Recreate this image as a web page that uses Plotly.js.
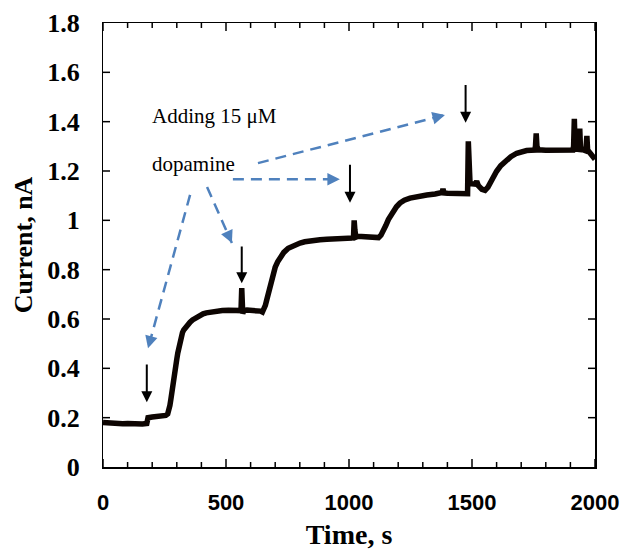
<!DOCTYPE html>
<html>
<head>
<meta charset="utf-8">
<script src="https://cdn.plot.ly/plotly-3.0.1.min.js"></script>
<style>html,body{margin:0;padding:0;background:#fff;}#chart{width:625px;height:550px;}</style>
</head>
<body>
<div id="chart"></div>
<script>
// Time (s) and current (nA)
const time = [
  0,20,40,60,80,100,120,140,160,178,
  183,200,220,240,255,263,268,272,276,279,
  283,286,290,293,297,300,304,307,310,313,
  318,323,328,333,343,354,364,374,384,394,
  407,420,440,462,485,510,535,557,561,564,
  566,568,572,585,600,620,640,648,655,660,
  665,672,678,685,692,700,710,720,735,753,
  775,801,820,840,860,882,910,940,970,1004,
  1014,1018,1021,1024,1028,1035,1050,1070,1090,1110,
  1120,1130,1140,1150,1160,1170,1180,1193,1207,1225,
  1248,1280,1316,1350,1375,1379,1382,1386,1400,1420,
  1440,1460,1478,1482,1485,1488,1492,1500,1512,1519,
  1526,1540,1553,1565,1580,1600,1617,1634,1658,1682,
  1700,1722,1740,1755,1758,1761,1764,1770,1800,1830,
  1860,1890,1910,1913,1916,1919,1925,1935,1938,1941,
  1950,1960,1964,1967,1970,1980,1990,2000
];
const current = [
  0.180,0.178,0.176,0.177,0.175,0.176,0.174,0.175,0.174,0.176,
  0.200,0.203,0.204,0.206,0.209,0.215,0.230,0.250,0.275,0.300,
  0.325,0.345,0.370,0.392,0.418,0.437,0.462,0.480,0.498,0.515,
  0.532,0.545,0.555,0.563,0.575,0.587,0.596,0.603,0.610,0.616,
  0.621,0.625,0.629,0.632,0.634,0.635,0.636,0.637,0.634,0.725,
  0.700,0.622,0.634,0.636,0.636,0.635,0.632,0.628,0.640,0.655,
  0.675,0.705,0.730,0.760,0.788,0.810,0.832,0.848,0.870,0.887,
  0.899,0.908,0.913,0.917,0.919,0.921,0.923,0.925,0.926,0.927,
  0.928,0.924,1.000,0.960,0.932,0.935,0.934,0.932,0.930,0.928,
  0.930,0.940,0.956,0.980,1.003,1.022,1.037,1.055,1.070,1.082,
  1.090,1.098,1.103,1.107,1.109,1.113,1.128,1.111,1.110,1.110,
  1.111,1.110,1.110,1.108,1.320,1.180,1.150,1.148,1.147,1.158,
  1.140,1.126,1.122,1.135,1.165,1.199,1.222,1.239,1.258,1.272,
  1.278,1.283,1.284,1.285,1.300,1.352,1.300,1.286,1.284,1.283,
  1.284,1.283,1.285,1.300,1.412,1.300,1.288,1.287,1.372,1.290,
  1.285,1.283,1.300,1.342,1.285,1.270,1.258,1.248
];

// Tick positions
const xMajorTicks = [0, 500, 1000, 1500, 2000];
const xMinorTicks = [100, 200, 300, 400, 600, 700, 800, 900, 1100, 1200, 1300, 1400, 1600, 1700, 1800, 1900];
const yTicks = [0.2, 0.4, 0.6, 0.8, 1.0, 1.2, 1.4, 1.6];

// Black "addition" arrows (time, top of shaft, tip)
const addTime = [178, 564, 1004, 1474];
const addTop  = [0.422, 0.900, 1.231, 1.555];
const addTip  = [0.263, 0.745, 1.071, 1.396];

// Blue dashed pointer arrows from the label
const ptrStartX = [354, 423, 528, 630];
const ptrStartY = [1.103, 1.135, 1.167, 1.232];
const ptrTipX   = [183, 524, 963, 1390];
const ptrTipY   = [0.481, 0.908, 1.167, 1.427];

// Label lines
const labelLines = ['Adding 15 μM', 'dopamine'];
const labelX = [193, 193];
const labelY = [1.425, 1.229];

const M = {l: 103, r: 30, t: 23, b: 83};
const W = 625 - M.l - M.r, H = 550 - M.t - M.b;
const XR = [0, 2000], YR = [0, 1.8];
const BLUE = '#4f81bd';
const CLEAR = 'rgba(0,0,0,0)';

const carrier = (xa, ya) => ({
  x: [XR[0]], y: [YR[0]], xaxis: xa, yaxis: ya, type: 'scatter', mode: 'markers',
  marker: {size: 0, opacity: 0}, hoverinfo: 'skip', showlegend: false
});

const traces = [{
  x: time, y: current, type: 'scatter', mode: 'lines',
  line: {color: '#0d0502', width: 5.5, shape: 'linear'},
  hoverinfo: 'skip', showlegend: false
}, carrier('x2', 'y'), carrier('x', 'y2')];

for (let i = 0; i < ptrStartX.length; i++) {
  traces.push({
    x: [ptrStartX[i], ptrTipX[i]], y: [ptrStartY[i], ptrTipY[i]],
    type: 'scatter', mode: 'lines',
    line: {color: BLUE, width: 2.5, dash: '11px,7px'},
    hoverinfo: 'skip', showlegend: false
  });
}

const annotations = [];
for (let i = 0; i < addTime.length; i++) {
  annotations.push({
    x: addTime[i], y: addTip[i], ax: addTime[i], ay: addTop[i],
    xref: 'x', yref: 'y', axref: 'x', ayref: 'y',
    text: '', showarrow: true, arrowhead: 2, arrowsize: 1.1, arrowwidth: 2,
    arrowcolor: '#000'
  });
}
for (let i = 0; i < ptrTipX.length; i++) {
  const dxp = (ptrStartX[i] - ptrTipX[i]) / (XR[1] - XR[0]) * W;
  const dyp = (ptrStartY[i] - ptrTipY[i]) / (YR[1] - YR[0]) * H;
  const len = Math.sqrt(dxp * dxp + dyp * dyp);
  const k = 13 / len;
  annotations.push({
    x: ptrTipX[i], y: ptrTipY[i],
    ax: ptrTipX[i] + (ptrStartX[i] - ptrTipX[i]) * k,
    ay: ptrTipY[i] + (ptrStartY[i] - ptrTipY[i]) * k,
    xref: 'x', yref: 'y', axref: 'x', ayref: 'y',
    text: '', showarrow: true, arrowhead: 2, arrowsize: 1, arrowwidth: 2.5,
    arrowcolor: BLUE
  });
}
for (let i = 0; i < labelLines.length; i++) {
  annotations.push({
    x: labelX[i], y: labelY[i], xref: 'x', yref: 'y',
    text: labelLines[i], showarrow: false, xanchor: 'left', yanchor: 'middle',
    font: {family: 'Liberation Serif, Times New Roman, serif', size: 21, color: '#000'}
  });
}

// Inside tick marks on all four sides, fixed pixel length, placed on the axis scales
const shapes = [];
const tickLine = {color: '#000', width: 1.5};
const addXTick = (v, len) => {
  shapes.push({type: 'line', xref: 'x', yref: 'paper', ysizemode: 'pixel', yanchor: 0,
    x0: v, x1: v, y0: 0, y1: len, line: tickLine, layer: 'above'});
  shapes.push({type: 'line', xref: 'x', yref: 'paper', ysizemode: 'pixel', yanchor: 1,
    x0: v, x1: v, y0: 0, y1: -len, line: tickLine, layer: 'above'});
};
xMajorTicks.forEach(v => addXTick(v, 8));
xMinorTicks.forEach(v => addXTick(v, 5));
yTicks.forEach(v => {
  shapes.push({type: 'line', xref: 'paper', yref: 'y', xsizemode: 'pixel', xanchor: 0,
    x0: 0, x1: 7, y0: v, y1: v, line: tickLine, layer: 'above'});
  shapes.push({type: 'line', xref: 'paper', yref: 'y', xsizemode: 'pixel', xanchor: 1,
    x0: 0, x1: -7, y0: v, y1: v, line: tickLine, layer: 'above'});
});

const layout = {
  width: 625, height: 550,
  margin: M,
  paper_bgcolor: '#fff', plot_bgcolor: '#fff',
  showlegend: false,
  // frame axes: lines only
  xaxis: {
    range: XR, tickmode: 'linear', tick0: 0, dtick: 500, ticks: '',
    showticklabels: false,
    showline: true, linewidth: 1.5, linecolor: '#000', mirror: true,
    showgrid: false, zeroline: false, fixedrange: true
  },
  yaxis: {
    range: YR, tickmode: 'linear', tick0: 0, dtick: 0.2, ticks: '',
    showticklabels: false,
    showline: true, linewidth: 1.5, linecolor: '#000', mirror: true,
    showgrid: false, zeroline: false, fixedrange: true
  },
  // label axes: transparent outside ticks only set the label gap
  xaxis2: {
    overlaying: 'x', anchor: 'y', side: 'bottom',
    range: XR, tickmode: 'linear', tick0: 0, dtick: 500,
    ticks: 'outside', ticklen: 16, tickcolor: CLEAR, showline: false,
    showgrid: false, zeroline: false, fixedrange: true,
    tickfont: {family: 'Liberation Sans Narrow, Liberation Sans, Arial, sans-serif', size: 22, weight: 'bold', color: '#000'},
    title: {text: 'Time, s', standoff: 10,
      font: {family: 'Liberation Serif, Times New Roman, serif', size: 28, weight: 'bold', color: '#000'}}
  },
  yaxis2: {
    overlaying: 'y', anchor: 'x', side: 'left',
    range: YR, tickmode: 'linear', tick0: 0, dtick: 0.2,
    ticks: 'outside', ticklen: 17, tickcolor: CLEAR, showline: false,
    showgrid: false, zeroline: false, fixedrange: true,
    tickfont: {family: 'Liberation Serif, Times New Roman, serif', size: 26, weight: 'bold', color: '#000'},
    title: {text: 'Current, nA', standoff: 7,
      font: {family: 'Liberation Serif, Times New Roman, serif', size: 26, weight: 'bold', color: '#000'}}
  },
  shapes: shapes,
  annotations: annotations
};

Plotly.newPlot('chart', traces, layout, {staticPlot: true, displayModeBar: false});
</script>
</body>
</html>
